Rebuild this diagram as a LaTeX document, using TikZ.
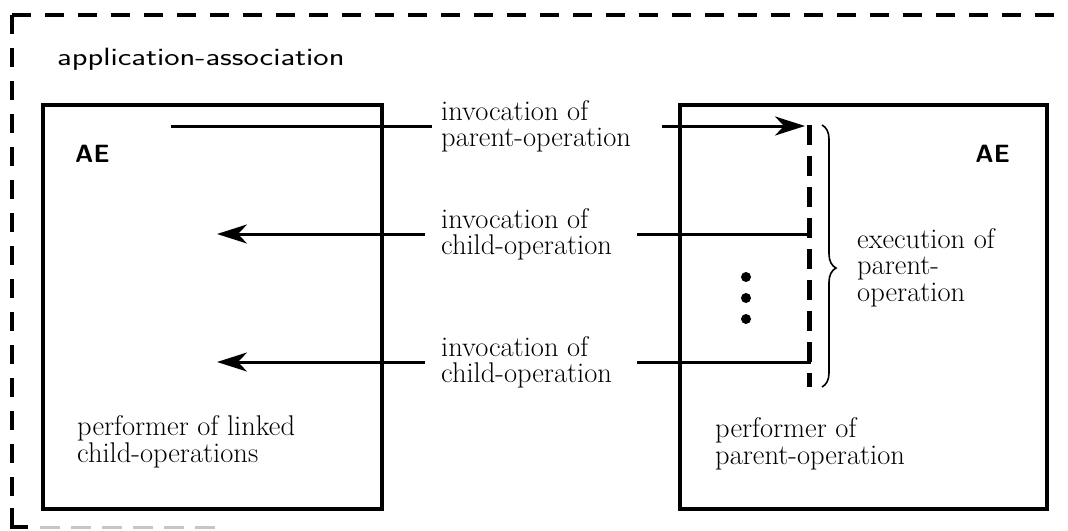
\documentclass[tikz,border=0pt]{standalone}
\usepackage{graphicx}
\usetikzlibrary{arrows.meta,decorations.pathreplacing}
\begin{document}
\begin{tikzpicture}[x=1pt,y=-1pt,
  blockbox/.style={draw,line width=4.5pt,inner sep=0pt,outer sep=0pt},
  conn/.style={line width=3pt},
  tipped/.style={conn,-{Stealth[length=30pt,width=19pt,inset=9pt]}},
  lbl/.style={anchor=base west,inner sep=0pt,align=left,font=\fontsize{28.5}{26.5}\selectfont},
  widelbl/.style={lbl,font=\fontsize{28.5}{27}\selectfont},
  sanslbl/.style={anchor=base west,inner sep=0pt,font=\fontsize{25}{26}\selectfont\sffamily},
  aelbl/.style={inner sep=0pt,font=\fontsize{25}{26}\selectfont\sffamily\bfseries},
  outerdash/.style={line width=4.5pt,dash pattern=on 19pt off 14pt},
  actdash/.style={line width=5pt,dash pattern=on 20pt off 11pt},
  bracestyle/.style={line width=1.6pt,decorate,decoration={brace,amplitude=14pt,aspect=0.546}}
]
\useasboundingbox (0,0) rectangle (1068,530);

% outer dashed application-association frame
\coordinate (oc) at (12,15);
\coordinate (ore) at (1080,15);
\coordinate (obl) at (12,527);
\coordinate (obr) at (28,527);
\draw[outerdash] (oc) -- (ore);
\draw[outerdash] (oc) -- (12,505);
\draw[line width=4.5pt] (12,508) -- (obl) -- (obr);
\draw[gray!45,line width=3pt,dash pattern=on 20pt off 11pt] (40,527) -- (215,527);
\node[sanslbl] (app) at (57,65) {\scalebox{1.3}[1]{application-association}};

% the two AEs
\node[blockbox,minimum width=339pt,minimum height=404pt] (lbox) at (212.5,307) {};
\node[blockbox,minimum width=367pt,minimum height=404pt] (rbox) at (863.5,307) {};
\node[aelbl,anchor=base west] (ael) at (75,162) {AE};
\node[aelbl,anchor=base east] (aer) at (1010,162) {AE};

\node[widelbl] (perfl) at (77,462) {performer of linked\\child-operations};
\node[widelbl] (perfr) at (715,464) {performer of\\parent-operation};

% invocation of parent-operation
\coordinate (s1) at (171,126);
\coordinate (g1a) at (432,126);
\coordinate (g1b) at (662,126);
\coordinate (t1) at (805,126);
\draw[conn] (s1) -- (g1a);
\draw[tipped] (g1b) -- (t1);
\node[lbl] (lab1) at (441,146.5) {invocation of\\parent-operation};

% execution of parent-operation
\coordinate (dtop) at (809,125);
\coordinate (dbot) at (809,387);
\draw[actdash] (dtop) -- (dbot);

\coordinate (bt) at (822,125);
\coordinate (bb) at (822,387);
\draw[bracestyle] (bt) -- (bb);
\node[lbl] (exec) at (857,301) {execution of\\parent-\\operation};

% child invocations
\coordinate (k1) at (809,219);
\coordinate (c1a) at (637,234);
\coordinate (c1b) at (425,234);
\coordinate (c1t) at (217,234);
\draw[conn] (k1) |- (c1a);
\draw[tipped] (c1b) -- (c1t);
\node[lbl] (lab2) at (441,254.5) {invocation of\\child-operation};

\coordinate (k2) at (809,348);
\coordinate (c2a) at (637,362);
\coordinate (c2b) at (425,362);
\coordinate (c2t) at (217,362);
\draw[conn] (k2) |- (c2a);
\draw[tipped] (c2b) -- (c2t);
\node[lbl] (lab3) at (441,382.5) {invocation of\\child-operation};

% ellipsis dots
\fill (746,277) circle (5pt);
\fill (746,298) circle (5pt);
\fill (746,319) circle (5pt);
\end{tikzpicture}
\end{document}
